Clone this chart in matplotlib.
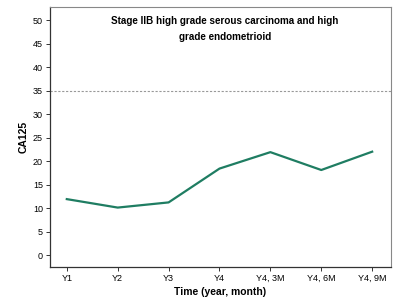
import matplotlib
matplotlib.use("Agg")
import matplotlib.pyplot as plt

categories = ["Y1", "Y2", "Y3", "Y4", "Y4, 3M", "Y4, 6M", "Y4, 9M"]
ca125 = [11.9, 10.1, 11.2, 18.4, 21.9, 18.1, 22.0]
yticks = [0, 5, 10, 15, 20, 25, 30, 35, 40, 45, 50]
threshold = 35
title = "Stage IIB high grade serous carcinoma and high\ngrade endometrioid"

plt.rcParams['font.family'] = ['Liberation Sans', 'DejaVu Sans']

fig = plt.figure(figsize=(3.99, 3.05), dpi=100)
ax = fig.add_axes([50/399, 1-267/305, (391-50)/399, (267-7)/305])

x = list(range(len(categories)))
ax.plot(x, ca125, color="#1f7d62", lw=1.6)
ax.axhline(threshold, color="#999999", lw=0.8, ls=(0, (2, 1.5)))

ax.set_xlim(-0.33, 6.37)
ax.set_ylim(-2.55, 52.8)
ax.set_xticks(x)
ax.set_xticklabels(categories, fontsize=6.5)
ax.set_yticks(yticks)
ax.set_yticklabels([str(v) for v in yticks], fontsize=6.5)
ax.tick_params(length=3, width=0.7, color="#333333", pad=2)

for s in ["left", "bottom"]:
    ax.spines[s].set_color("#333333")
    ax.spines[s].set_linewidth(0.9)
for s in ["top", "right"]:
    ax.spines[s].set_color("#888888")
    ax.spines[s].set_linewidth(0.8)

ax.set_xlabel("Time (year, month)", fontsize=7.5, fontweight="bold", labelpad=3)
ax.set_ylabel("CA125", fontsize=7.5, fontweight="bold", labelpad=3)
ax.text(0.513, 0.965, title, transform=ax.transAxes, ha="center", va="top",
        fontsize=7.1, fontweight="bold", linespacing=1.75)

fig.savefig("out.png", dpi=100)
